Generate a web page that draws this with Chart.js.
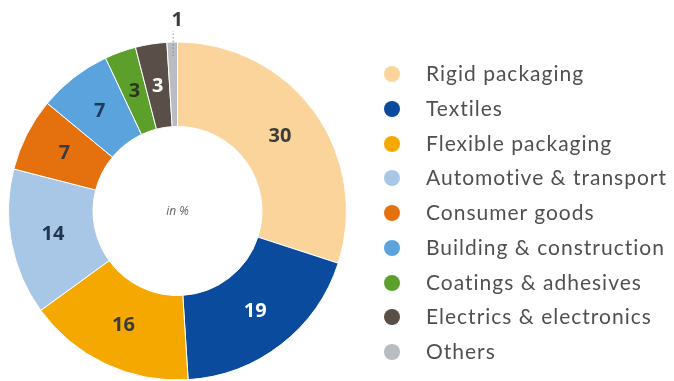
<!DOCTYPE html>
<html>
<head>
<meta charset="utf-8">
<script src="https://cdn.jsdelivr.net/npm/chart.js@4.4.1/dist/chart.umd.min.js"></script>
<style>
  html, body { margin: 0; padding: 0; background: #fff; }
  #wrap { position: relative; width: 674px; height: 381px; }
  #legend { position: absolute; left: 384px; top: 56px; margin: 0; padding: 0; list-style: none;
            font-family: Lato, "Open Sans", sans-serif; font-size: 21px; letter-spacing: 1px;
            color: #505050; }
  #legend li { height: 34.75px; line-height: 34px; white-space: nowrap; }
  #legend span.dot { display: inline-block; width: 16px; height: 16px; border-radius: 50%;
                     vertical-align: -1px; margin-right: 26px; }
</style>
</head>
<body>
<div id="wrap">
  <canvas id="myChart" width="674" height="381"></canvas>
  <ul id="legend"></ul>
</div>
<script>
// plastic demand by segment, in %
const sectors = ['Rigid packaging', 'Textiles', 'Flexible packaging', 'Automotive & transport',
  'Consumer goods', 'Building & construction', 'Coatings & adhesives',
  'Electrics & electronics', 'Others'];
const shares = [30, 19, 16, 14, 7, 7, 3, 3, 1];
const colors = ['#fad49a', '#0b4b9e', '#f4a800', '#a8c6e6', '#e5700e', '#5ba3dc',
  '#5c9f2b', '#594e48', '#b9bcc2'];
const labelColors = ['#3c3c3c', '#ffffff', '#3c3c3c', '#1f3550', '#3c3c3c', '#1f3a5a',
  '#2c3a1c', '#ffffff', '#3c3c3c'];

// numbers on the ring; the smallest slice gets its label outside with a dotted leader
const sliceLabels = {
  id: 'sliceLabels',
  afterDatasetsDraw(chart) {
    const ctx = chart.ctx;
    const meta = chart.getDatasetMeta(0);
    ctx.save();
    ctx.font = 'bold 20px "Open Sans", Lato, sans-serif';
    ctx.textAlign = 'center';
    ctx.textBaseline = 'middle';
    meta.data.forEach((arc, i) => {
      const v = shares[i];
      if (v < 2) {
        const mid = (arc.startAngle + arc.endAngle) / 2;
        const x0 = arc.x + Math.cos(mid) * arc.outerRadius;
        const y0 = arc.y + Math.sin(mid) * arc.outerRadius;
        ctx.strokeStyle = '#7a8ea8';
        ctx.lineWidth = 1;
        ctx.setLineDash([1.5, 2]);
        ctx.beginPath();
        ctx.moveTo(x0 + 1, y0 + 14);
        ctx.lineTo(x0 + 1, y0 - 11);
        ctx.stroke();
        ctx.setLineDash([]);
        ctx.fillStyle = '#3c3c3c';
        ctx.fillText(String(v), x0 + 5, y0 - 22);
        return;
      }
      const p = arc.tooltipPosition();
      ctx.fillStyle = labelColors[i];
      ctx.fillText(String(v), p.x, p.y);
    });
    ctx.font = 'italic 12px "Open Sans", Lato, sans-serif';
    ctx.fillStyle = '#666';
    ctx.fillText('in %', meta.data[0].x, meta.data[0].y + 1);
    ctx.restore();
  }
};

const config = {
  type: 'doughnut',
  data: {
    labels: sectors,
    datasets: [{
      data: shares,
      backgroundColor: colors,
      borderColor: '#ffffff',
      borderWidth: 1
    }]
  },
  options: {
    responsive: false,
    animation: false,
    cutout: '50%',
    layout: { padding: { left: 8, top: 41, right: 327, bottom: 0 } },
    plugins: {
      legend: { display: false },
      tooltip: { enabled: false }
    }
  },
  plugins: [sliceLabels]
};

const myChart = new Chart(document.getElementById('myChart'), config);

// legend list on the right
const legend = document.getElementById('legend');
sectors.forEach((s, i) => {
  const li = document.createElement('li');
  li.innerHTML = '<span class="dot" style="background:' + colors[i] + '"></span>' + s.replace('&', '&amp;');
  legend.appendChild(li);
});
</script>
</body>
</html>
